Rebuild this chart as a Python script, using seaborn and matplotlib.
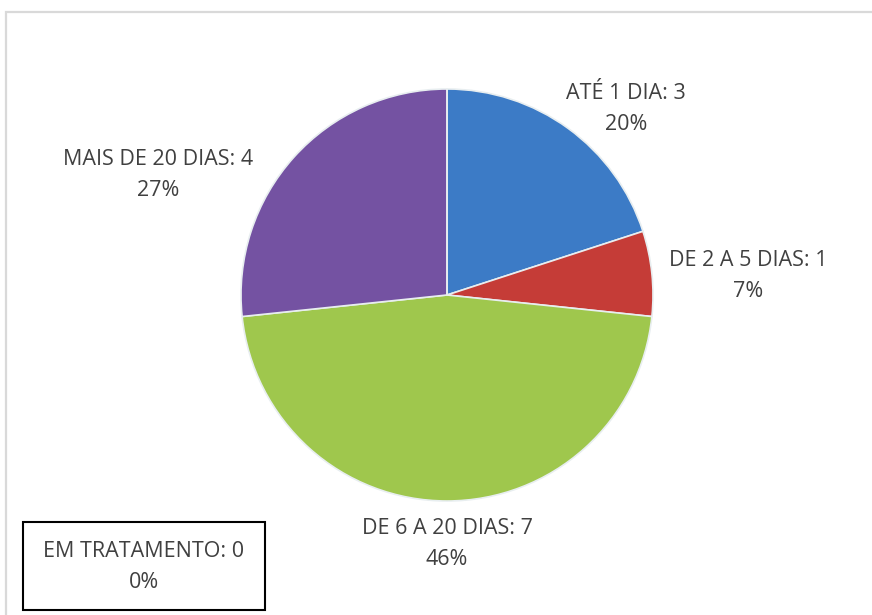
import matplotlib
matplotlib.use("Agg")
import matplotlib.pyplot as plt
from matplotlib.patches import Rectangle
import seaborn as sns

# -----------------------------
# STYLE
# -----------------------------
sns.set_theme(style="white")
plt.rcParams["font.family"] = ["Open Sans", "DejaVu Sans"]

# -----------------------------
# DATA
# -----------------------------
categories = ["ATÉ 1 DIA", "DE 2 A 5 DIAS", "DE 6 A 20 DIAS", "MAIS DE 20 DIAS", "EM TRATAMENTO"]
counts = [3, 1, 7, 4, 0]
pct_labels = ["20%", "7%", "46%", "27%", "0%"]
colors = ["#3C7BC6", "#C53C37", "#9FC74D", "#7452A2", "#4BACC6"]

# label positions (pixels, from top-left) for each slice
label_pos = [(626, 109), (748, 276), (447, 544), (158, 175), (144, 567)]

W, H = 872, 615
fig = plt.figure(figsize=(W / 100, H / 100), dpi=100)
ax = fig.add_axes([0, 0, 1, 1])

# outer chart frame
fig.patches.append(Rectangle((6 / W, -0.1), 1.2, (H - 12) / H + 0.1, transform=fig.transFigure,
                             fill=False, edgecolor="#d9d9d9", linewidth=1.6))

wedges, _ = ax.pie(counts, colors=colors, startangle=90, counterclock=False,
                   center=(447, H - 295), radius=206, frame=True,
                   wedgeprops=dict(edgecolor="#e8eef0", linewidth=1.2))
ax.set_xlim(0, W)
ax.set_ylim(0, H)
ax.set_aspect("equal")
ax.axis("off")

for cat, n, p, (px, py) in zip(categories, counts, pct_labels, label_pos):
    ax.text(px, H - py, f"{cat}: {n}\n{p}", ha="center", va="center", fontsize=15.5,
            color="#404040", linespacing=1.6)

# box around the zero-value label
ax.add_patch(Rectangle((23, H - 610), 242, 88, fill=False, edgecolor="black", linewidth=1.5))

fig.savefig("out.png", dpi=100)
